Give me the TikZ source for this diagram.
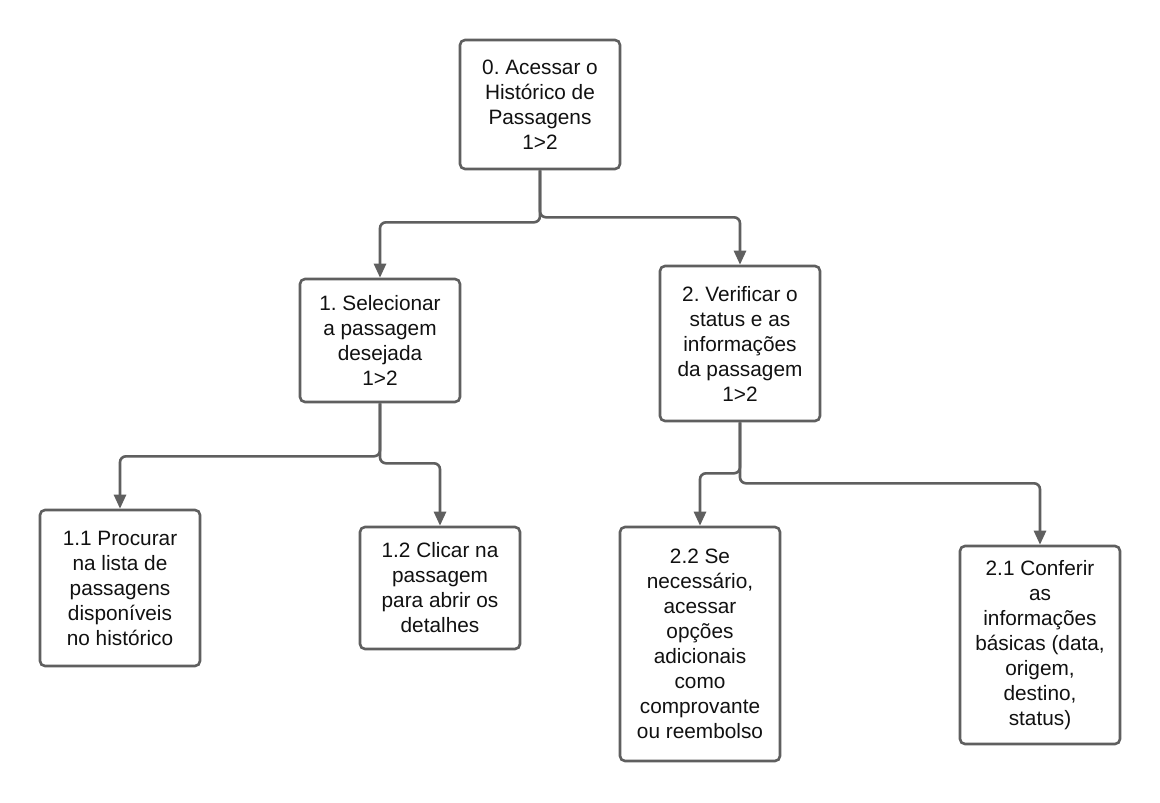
\documentclass[tikz,border=0pt]{standalone}
\usepackage{fontspec}
\setmainfont{Liberation Sans}
\frenchspacing
\usetikzlibrary{arrows.meta}
\definecolor{linegray}{HTML}{5F5F5F}
\definecolor{txt}{HTML}{111111}
\tikzset{
  taskbox/.style={draw=linegray, line width=2.6pt, rounded corners=5pt, fill=white,
    minimum width=160pt, inner sep=0pt, align=center, text=txt,
    font=\fontsize{20.8}{25}\selectfont},
  conn/.style={draw=linegray, line width=2.6pt, rounded corners=6pt,
    -{Triangle[width=12pt,length=14pt]}}
}
\begin{document}
\begin{tikzpicture}[x=1pt,y=-1pt]
\useasboundingbox (0,0) rectangle (1160,803);
\fill[white] (0,0) rectangle (1160,803);

\node[taskbox, minimum height=129pt] (b0) at (540,104.5) {0. Acessar o\\Histórico de\\Passagens\\1>2};
\node[taskbox, minimum height=123pt] (b1) at (380,340.5) {1. Selecionar\\a passagem\\desejada\\1>2};
\node[taskbox, minimum height=155pt] (b2) at (740,343.5) {2. Verificar o\\status e as\\informações\\da passagem\\1>2};
\node[taskbox, minimum height=156pt] (b11) at (120,588) {1.1 Procurar\\na lista de\\passagens\\disponíveis\\no histórico};
\node[taskbox, minimum height=122pt] (b12) at (440,588) {1.2 Clicar na\\passagem\\para abrir os\\detalhes};
\node[taskbox, minimum height=234pt] (b22) at (700,644) {2.2 Se\\necessário,\\acessar\\opções\\adicionais\\como\\comprovante\\ou reembolso};
\node[taskbox, minimum height=198pt] (b21) at (1040,645) {2.1 Conferir\\as\\informações\\básicas (data,\\origem,\\destino,\\status)};

\draw[conn] (b0.south) -- ++(0,52) -| (b1.north);
\draw[conn] (b0.south) -- ++(0,47) -| (b2.north);
\draw[conn] (b1.south) -- ++(0,53) -| (b11.north);
\draw[conn] (b1.south) -- ++(0,60) -| (b12.north);
\draw[conn] (b2.south) -- ++(0,51) -| (b22.north);
\draw[conn] (b2.south) -- ++(0,61) -| (b21.north);
\end{tikzpicture}
\end{document}
